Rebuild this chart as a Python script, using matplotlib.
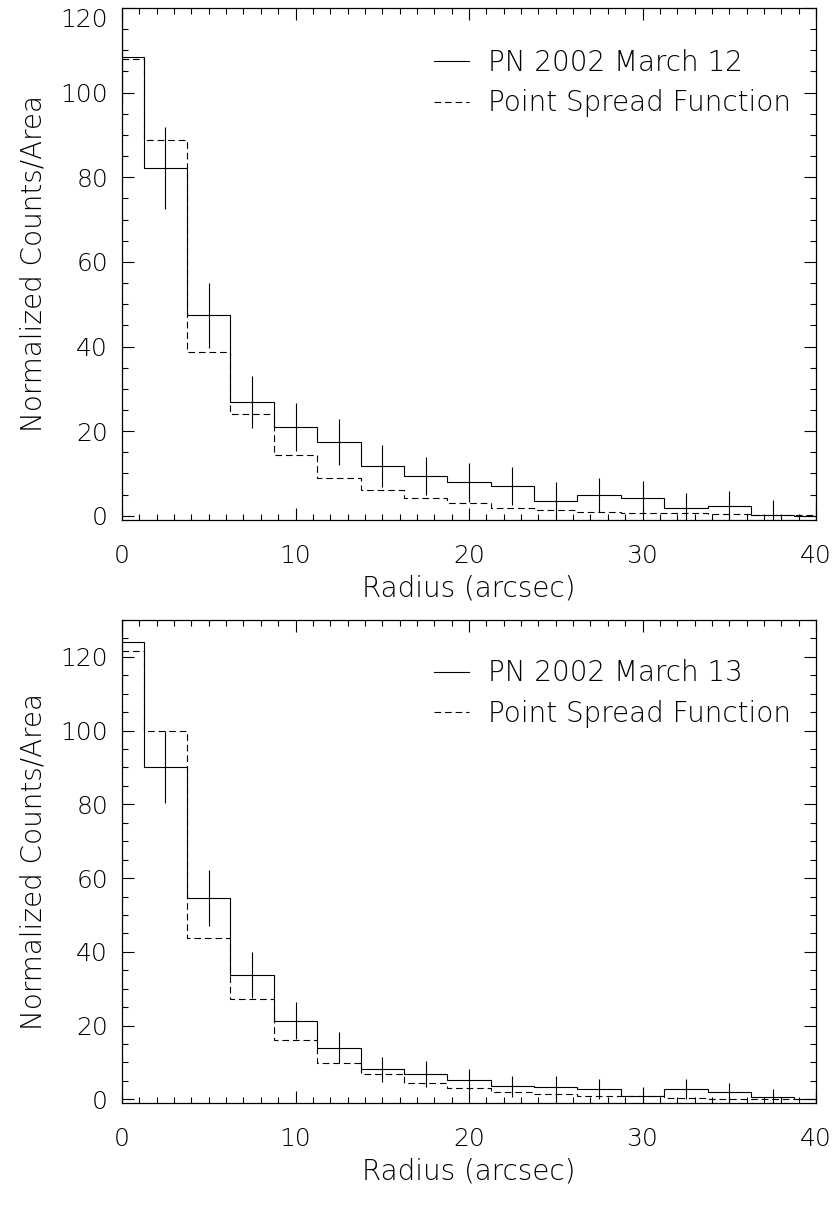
import numpy as np
import matplotlib.pyplot as plt
from matplotlib.lines import Line2D
from matplotlib.ticker import MultipleLocator

plt.rcParams['font.family'] = ['DejaVu Sans']
plt.rcParams['font.weight'] = 'light'
plt.rcParams['axes.labelweight'] = 'light'

# bin centres (arcsec)
radius = [0, 2.5, 5, 7.5, 10, 12.5, 15, 17.5, 20, 22.5, 25, 27.5, 30, 32.5, 35, 37.5, 40]

# 2002 March 12
pn12 = [108.5, 82.1, 47.4, 26.9, 20.9, 17.5, 11.7, 9.4, 7.9, 7.1, 3.6, 5.0, 4.3, 1.8, 2.2, 0.2, 0.0]
pn12_err = [11.0, 9.7, 7.7, 6.2, 5.7, 5.4, 5.0, 4.6, 4.6, 4.5, 4.3, 4.0, 3.9, 3.6, 3.7, 3.5, 3.3]
psf12 = [107.9, 88.7, 38.8, 24.1, 14.4, 8.9, 6.2, 4.3, 2.9, 1.8, 1.3, 0.9, 0.7, 0.55, 0.3, 0.2, 0.1]

# 2002 March 13
pn13 = [124.1, 90.2, 54.6, 33.7, 21.3, 14.0, 8.1, 6.8, 5.2, 3.5, 3.3, 2.8, 0.9, 2.8, 1.9, 0.5, 0.0]
pn13_err = [12.0, 9.8, 7.6, 6.2, 5.0, 4.2, 3.5, 3.5, 3.0, 2.9, 2.9, 2.8, 2.5, 2.8, 2.5, 2.3, 2.2]
psf13 = [121.7, 100.0, 43.7, 27.1, 16.1, 9.9, 6.8, 4.3, 3.1, 2.0, 1.4, 0.9, 0.8, 0.35, 0.2, 0.2, 0.05]

r = np.array(radius)
edges = np.concatenate([[r[0]], (r[:-1] + r[1:]) / 2, [r[-1]]])

fig = plt.figure(figsize=(8.35, 12.2), dpi=100)
W, H = 835, 1220

panels = [
    (pn12, pn12_err, psf12, 'PN 2002 March 12', 120, (8, 520)),
    (pn13, pn13_err, psf13, 'PN 2002 March 13', 130, (620, 1103)),
]

fs = 20
lw = 0.8
dash = (0, (6, 3.5))
axes = []
for pn, err, psf, lab, ytop, (top, bot) in panels:
    ax = fig.add_axes([122 / W, 1 - bot / H, (816 - 122) / W, (bot - top) / H])
    ax.stairs(pn, edges, baseline=None, color='k', lw=lw)
    ax.stairs(psf, edges, baseline=None, color='k', lw=lw, linestyle=dash)
    ax.errorbar(r, pn, yerr=err, fmt='none', ecolor='k', elinewidth=lw, capsize=0)

    ax.set_xlim(0, 40)
    ax.set_ylim(-1, ytop)
    ax.xaxis.set_major_locator(MultipleLocator(10))
    ax.xaxis.set_minor_locator(MultipleLocator(1))
    ax.yaxis.set_major_locator(MultipleLocator(20))
    ax.yaxis.set_minor_locator(MultipleLocator(5))
    ax.tick_params(which='both', direction='in', top=True, right=True, labelsize=18)
    ax.tick_params(which='major', length=8.5, width=0.8)
    ax.tick_params(which='minor', length=4.2, width=0.8)
    ax.tick_params(axis='x', pad=17)
    ax.tick_params(axis='y', pad=10)
    for s in ax.spines.values():
        s.set_linewidth(0.9)

    ax.set_xlabel('Radius (arcsec)', fontsize=fs, labelpad=5)
    ax.set_ylabel('Normalized Counts/Area', fontsize=fs, labelpad=9)

    handles = [Line2D([], [], color='k', lw=lw),
               Line2D([], [], color='k', lw=lw, linestyle=dash)]
    ax.legend(handles, [lab, 'Point Spread Function'], loc='upper right',
              bbox_to_anchor=(0.988, 0.953), frameon=False, fontsize=fs,
              handlelength=1.25, handletextpad=0.7, labelspacing=0.45,
              borderaxespad=0.2)
    axes.append(ax)

# the 120 label of the upper panel sits on the frame edge: hang it below
fig.canvas.draw()
for t in axes[0].get_yticklabels():
    if t.get_text() == '120':
        t.set_va('top')

fig.savefig('out.png', dpi=100)
